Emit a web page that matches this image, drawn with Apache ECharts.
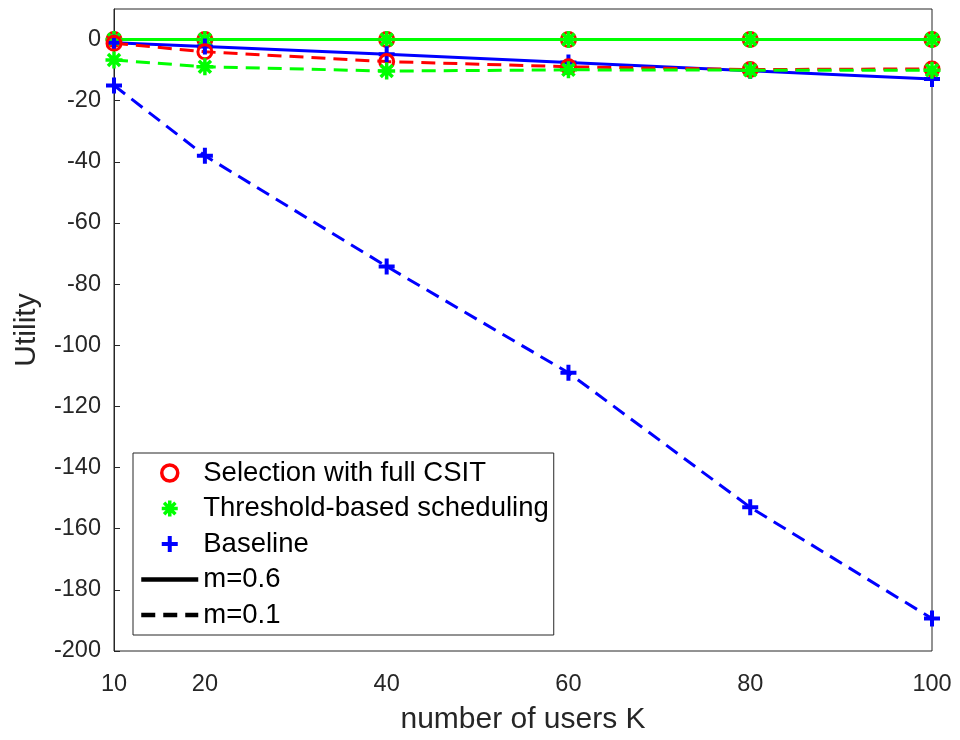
<!DOCTYPE html>
<html>
<head>
<meta charset="utf-8">
<script src="https://cdn.jsdelivr.net/npm/echarts@6/dist/echarts.min.js"></script>
<style>
  html, body { margin: 0; padding: 0; background: #fff; }
  #chart { width: 960px; height: 740px; }
</style>
</head>
<body>
<div id="chart"></div>
<script>
// number of users K
var users = [10, 20, 40, 60, 80, 100];
var xTickLabels = [10, 20, 40, 60, 80, 100];

// m = 0.6 (solid)
var selection06 = [0, 0, 0, 0, 0, 0];
var threshold06 = [0, 0, 0, 0, 0, 0];
var baseline06 = [-1.0, -2.3, -4.8, -7.5, -10.2, -12.9];

// m = 0.1 (dashed)
var selection01 = [-1.2, -4.0, -7.2, -8.9, -9.8, -9.6];
var threshold01 = [-6.7, -8.9, -10.3, -9.9, -10.0, -10.0];
var baseline01 = [-15.0, -38.0, -74.2, -109.0, -153.0, -189.4];

var FONT = "'Liberation Sans', Arial, sans-serif";
var RED = "#ff0000", GREEN = "#00ff00", BLUE = "#0000ff";

var starPath = "path://M0,-10L0,10M-10,0L10,0M-7.07,-7.07L7.07,7.07M-7.07,7.07L7.07,-7.07";
var plusPath = "path://M0,-10L0,10M-10,0L10,0";

var markers = {
  sel: { symbol: "circle", symbolSize: 14, itemStyle: { color: "rgba(0,0,0,0)", borderColor: RED, borderWidth: 3 } },
  thr: { symbol: starPath, symbolSize: 17, itemStyle: { color: GREEN, borderColor: GREEN, borderWidth: 3.5 } },
  base: { symbol: plusPath, symbolSize: 16, itemStyle: { color: BLUE, borderColor: BLUE, borderWidth: 4 } }
};

function pairs(ys) {
  return users.map(function (k, i) { return [k, ys[i]]; });
}

function curve(id, ys, mk, color, dashed) {
  return {
    id: id,
    name: id,
    type: "line",
    data: pairs(ys),
    symbol: mk.symbol,
    symbolSize: mk.symbolSize,
    showAllSymbol: true,
    itemStyle: mk.itemStyle,
    lineStyle: { color: color, width: 3, type: dashed ? [14, 8] : "solid" },
    clip: false,
    animation: false,
    emphasis: { disabled: true }
  };
}

// series with no data, only there to give the legend its entries
function legendOnly(name, mk, lineType) {
  var s = { name: name, type: "line", data: [], animation: false };
  if (mk) {
    s.symbol = mk.symbol;
    s.symbolSize = mk.symbolSize;
    s.itemStyle = mk.itemStyle;
    s.lineStyle = { width: 0, opacity: 0 };
  } else {
    s.symbol = "none";
    s.itemStyle = { color: "rgba(0,0,0,0)", borderWidth: 0 };
    s.lineStyle = { color: "#000", width: 4, type: lineType };
  }
  return s;
}

var chart = echarts.init(document.getElementById("chart"));
chart.setOption({
  backgroundColor: "#fff",
  textStyle: { fontFamily: FONT },
  grid: {
    left: 114, right: 28, top: 9, bottom: 87,
    show: true, borderColor: "#262626", borderWidth: 1, backgroundColor: "#fff"
  },
  legend: {
    orient: "vertical",
    left: 133,
    top: 453,
    padding: [6, 5, 6, 6],
    itemWidth: 57,
    itemHeight: 20,
    itemGap: 7.5,
    borderColor: "#262626",
    borderWidth: 1,
    backgroundColor: "#fff",
    textStyle: { fontSize: 27.5, color: "#000", fontFamily: FONT },
    selectedMode: false,
    data: [
      { name: "Selection with full CSIT", itemStyle: { borderWidth: 3.5 } },
      { name: "Threshold-based scheduling", itemStyle: { borderWidth: 3.5 } },
      { name: "Baseline", itemStyle: { borderWidth: 4 } },
      { name: "m=0.6", itemStyle: { opacity: 0 }, lineStyle: { width: 4.5 } },
      { name: "m=0.1", itemStyle: { opacity: 0 }, lineStyle: { width: 4.5 } }
    ]
  },
  xAxis: {
    type: "value",
    min: 10,
    max: 100,
    interval: 10,
    name: "number of users K",
    nameLocation: "middle",
    nameGap: 54,
    nameTextStyle: { fontSize: 30, color: "#262626", fontFamily: FONT },
    axisLine: { lineStyle: { color: "#262626", width: 1 } },
    axisTick: { inside: true, length: 6, lineStyle: { color: "#262626" }, customValues: [20, 40, 60, 80] },
    axisLabel: { fontSize: 23.5, color: "#262626", margin: 22, customValues: xTickLabels },
    splitLine: { show: false }
  },
  yAxis: {
    type: "value",
    min: -200,
    max: 10,
    interval: 20,
    name: "Utility",
    nameLocation: "middle",
    nameGap: 72,
    nameTextStyle: { fontSize: 30, color: "#262626", fontFamily: FONT },
    axisLine: { lineStyle: { color: "#262626", width: 1 } },
    axisTick: { inside: true, length: 6, lineStyle: { color: "#262626" } },
    axisLabel: { fontSize: 23.5, color: "#262626", margin: 13, showMaxLabel: false },
    splitLine: { show: false }
  },
  series: [
    curve("sel06", selection06, markers.sel, RED, false),
    curve("thr06", threshold06, markers.thr, GREEN, false),
    curve("base06", baseline06, markers.base, BLUE, false),
    curve("sel01", selection01, markers.sel, RED, true),
    curve("thr01", threshold01, markers.thr, GREEN, true),
    curve("base01", baseline01, markers.base, BLUE, true),
    legendOnly("Selection with full CSIT", markers.sel),
    legendOnly("Threshold-based scheduling", markers.thr),
    legendOnly("Baseline", markers.base),
    legendOnly("m=0.6", null, "solid"),
    legendOnly("m=0.1", null, [14, 8])
  ]
});
</script>
</body>
</html>
